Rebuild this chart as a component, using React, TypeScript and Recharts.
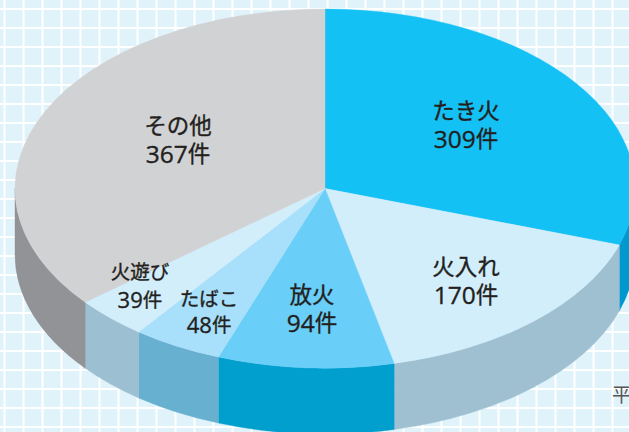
import React from "react";
import { PieChart, Pie } from "recharts";

const categories = ["たき火", "火入れ", "放火", "たばこ", "火遊び", "その他"];
const counts = [309, 170, 94, 48, 39, 367];
const topColors = ["#14C1F5", "#D3EEFB", "#69CFF8", "#A8DFFB", "#D3EEFB", "#D1D2D4"];
const wallColors = ["#0098CE", "#9EC0D1", "#009FCE", "#67B0CF", "#9DBFD2", "#929397"];
// label centres, as fractions of the ellipse radii from its centre
const labelFx = [0.455, 0.455, -0.042, -0.374, -0.597, -0.474];
const labelFy = [-0.36, 0.511, 0.665, 0.683, 0.537, -0.275];
const bigText = [true, true, true, false, false, true];
const labelGaps = [28, 28, 28, 26, 28, 28];
// the artwork's projection pulls the lower boundaries slightly clockwise-back
const warpAt = [0, 108, 167, 231, 360];
const warpBy = [0, 0, -0.8, -0.7, 0];

const table = categories.map((name, i) => ({ name, value: counts[i], fill: topColors[i] }));

const CX = 325;
const CY = 188.5;
const RX = 310;
const RY = 179.5;
const DEPTH = 66;

const warp = (a: number) => {
  const t = 90 - a;
  for (let i = 0; i < warpAt.length - 1; i++) {
    if (t >= warpAt[i] && t <= warpAt[i + 1]) {
      const f = (t - warpAt[i]) / (warpAt[i + 1] - warpAt[i]);
      return a - (warpBy[i] + f * (warpBy[i + 1] - warpBy[i]));
    }
  }
  return a;
};
const rad = (d: number) => (d * Math.PI) / 180;
const px = (a: number) => CX + RX * Math.cos(rad(a));
const py = (a: number) => CY - RY * Math.sin(rad(a));

const TopSlice = (p: any) => {
  const s = warp(p.startAngle);
  const e = warp(p.endAngle);
  const fill = p.fill;
  const large = Math.abs(s - e) > 180 ? 1 : 0;
  const d = `M${CX},${CY} L${px(s)},${py(s)} A${RX},${RY} 0 ${large} 1 ${px(e)},${py(e)} Z`;
  return <path d={d} fill={fill} stroke={fill} strokeWidth={0.4} />;
};

const WallSlice = (p: any) => {
  const index = p.index;
  const s = Math.min(warp(p.startAngle), 0);
  const e = Math.max(warp(p.endAngle), -180);
  if (s <= e) return <g />;
  const d =
    `M${px(s)},${py(s)} A${RX},${RY} 0 0 1 ${px(e)},${py(e)} ` +
    `L${px(e)},${py(e) + DEPTH} A${RX},${RY} 0 0 0 ${px(s)},${py(s) + DEPTH} Z`;
  return <path d={d} fill={wallColors[index]} stroke={wallColors[index]} strokeWidth={0.4} />;
};

const SliceLabel = (p: any) => {
  const i = p.index;
  const x = CX + labelFx[i] * RX;
  const y = CY + labelFy[i] * RY;
  const gap = labelGaps[i];
  const cjk = bigText[i] ? 22.5 : 19.5;
  const digits = bigText[i] ? 24.5 : 22;
  const style = {
    fontFamily: "'Open Sans', 'Noto Sans CJK JP', sans-serif",
    fontWeight: 400,
    fill: "#231F20",
    stroke: "#231F20",
    strokeWidth: 0.35,
  };
  return (
    <text textAnchor="middle" dominantBaseline="central" style={style}>
      <tspan x={x} y={y - gap / 2} fontSize={cjk}>{categories[i]}</tspan>
      <tspan x={x} y={y + gap / 2} fontSize={digits}>
        {counts[i]}
        <tspan fontSize={cjk}>件</tspan>
      </tspan>
    </text>
  );
};

const gridStyle: React.CSSProperties = {
  position: "absolute",
  left: 0,
  top: 0,
  width: 629,
  height: 432,
  overflow: "hidden",
  backgroundColor: "#E0F3FB",
  backgroundImage:
    "linear-gradient(to right, #fff 2px, transparent 2px), linear-gradient(to bottom, #fff 2px, transparent 2px)",
  backgroundSize: "19px 19px",
  backgroundPosition: "3.5px 8px",
};

export default function App() {
  return (
    <div style={gridStyle}>
      <PieChart width={629} height={432} margin={{ top: 0, right: 0, bottom: 0, left: 0 }}>
        <Pie
          data={table}
          dataKey="value"
          nameKey="name"
          cx={CX}
          cy={CY}
          innerRadius={0}
          outerRadius={RX}
          startAngle={90}
          endAngle={-270}
          stroke="none"
          shape={WallSlice}
          isAnimationActive={false}
        />
        <Pie
          data={table}
          dataKey="value"
          nameKey="name"
          cx={CX}
          cy={CY}
          innerRadius={0}
          outerRadius={RX}
          startAngle={90}
          endAngle={-270}
          stroke="none"
          shape={TopSlice}
          label={SliceLabel}
          labelLine={false}
          isAnimationActive={false}
        />
        <text
          x={612}
          y={402}
          style={{ fontFamily: "'Noto Sans CJK JP', sans-serif", fontSize: 19, fill: "#555" }}
        >
          平
        </text>
      </PieChart>
    </div>
  );
}
